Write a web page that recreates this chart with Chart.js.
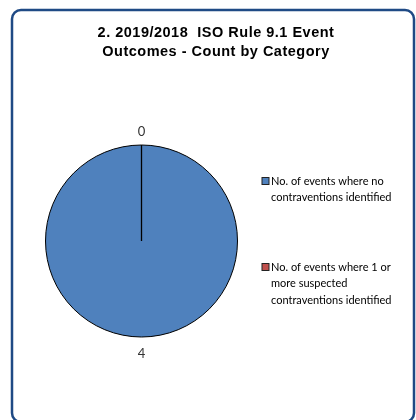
<!DOCTYPE html>
<html>
<head>
<meta charset="utf-8">
<script src="https://cdn.jsdelivr.net/npm/chart.js@4"></script>
<style>
  html, body { margin: 0; padding: 0; background: #ffffff; }
  #wrap { width: 416px; height: 420px; position: relative; }
</style>
</head>
<body>
<div id="wrap"><canvas id="c" width="416" height="420"></canvas></div>
<script>
const titleLines = ["2. 2019/2018  ISO Rule 9.1 Event", "Outcomes - Count by Category"];
const categories = [
  ["No. of events where no", "contraventions identified"],
  ["No. of events where 1 or", "more suspected", "contraventions identified"]
];
const counts = [4, 0];
const sliceColors = ["#4F81BD", "#C0504D"];

const decor = {
  id: 'decor',
  beforeDraw(chart) {
    const ctx = chart.ctx;
    ctx.save();
    // outer rounded frame
    ctx.strokeStyle = '#1F4A85';
    ctx.lineWidth = 2.5;
    const x0 = 12, y0 = 10, x1 = 414, y1 = 422, r = 9;
    ctx.beginPath();
    ctx.moveTo(x0 + r, y0);
    ctx.lineTo(x1 - r, y0);
    ctx.arcTo(x1, y0, x1, y0 + r, r);
    ctx.lineTo(x1, y1 - r);
    ctx.arcTo(x1, y1, x1 - r, y1, r);
    ctx.lineTo(x0 + r, y1);
    ctx.arcTo(x0, y1, x0, y1 - r, r);
    ctx.lineTo(x0, y0 + r);
    ctx.arcTo(x0, y0, x0 + r, y0, r);
    ctx.closePath();
    ctx.stroke();
    // title
    ctx.fillStyle = '#000000';
    ctx.font = 'bold 14.5px "Liberation Sans", Arial, sans-serif';
    if ('letterSpacing' in ctx) ctx.letterSpacing = '0.5px';
    ctx.textAlign = 'center';
    ctx.textBaseline = 'middle';
    titleLines.forEach((t, i) => ctx.fillText(t, 216, 33 + i * 18.5));
    ctx.restore();
  },
  afterDatasetsDraw(chart) {
    const ctx = chart.ctx;
    const meta = chart.getDatasetMeta(0);
    const ds = chart.data.datasets[0];
    ctx.save();
    meta.data.forEach((arc, i) => {
      const p = arc.getProps(['x', 'y', 'startAngle', 'endAngle', 'outerRadius'], true);
      if (ds.data[i] === 0) {
        ctx.strokeStyle = '#000000';
        ctx.lineWidth = 1.3;
        ctx.beginPath();
        ctx.moveTo(p.x, p.y);
        ctx.lineTo(p.x + Math.cos(p.startAngle) * p.outerRadius, p.y + Math.sin(p.startAngle) * p.outerRadius);
        ctx.stroke();
      }
      const mid = (p.startAngle + p.endAngle) / 2;
      const rr = p.outerRadius + 15;
      ctx.fillStyle = '#333333';
      ctx.font = '13px Lato, "Open Sans", sans-serif';
      ctx.textAlign = 'center';
      ctx.textBaseline = 'middle';
      ctx.fillText(String(ds.data[i]), p.x + Math.cos(mid) * rr, p.y + Math.sin(mid) * rr + 1.5);
    });
    // legend
    const tops = [181, 267];
    ctx.font = '11px Lato, "Open Sans", sans-serif';
    ctx.textAlign = 'left';
    ctx.textBaseline = 'middle';
    chart.data.labels.forEach((lines, i) => {
      const y = tops[i];
      ctx.fillStyle = ds.backgroundColor[i];
      ctx.fillRect(262, y - 3.5, 7, 7);
      ctx.strokeStyle = '#222222';
      ctx.lineWidth = 1;
      ctx.strokeRect(262, y - 3.5, 7, 7);
      ctx.fillStyle = '#000000';
      lines.forEach((ln, j) => ctx.fillText(ln, 271, y + j * 16.5));
    });
    ctx.restore();
  }
};

new Chart(document.getElementById('c'), {
  type: 'pie',
  data: {
    labels: categories,
    datasets: [{
      data: counts,
      backgroundColor: sliceColors,
      borderColor: '#000000',
      borderWidth: 1
    }]
  },
  options: {
    responsive: false,
    animation: false,
    devicePixelRatio: 1,
    layout: { padding: { left: 45, right: 178, top: 144, bottom: 82 } },
    plugins: {
      legend: { display: false },
      title: { display: false },
      tooltip: { enabled: false }
    }
  },
  plugins: [decor]
});
</script>
</body>
</html>
